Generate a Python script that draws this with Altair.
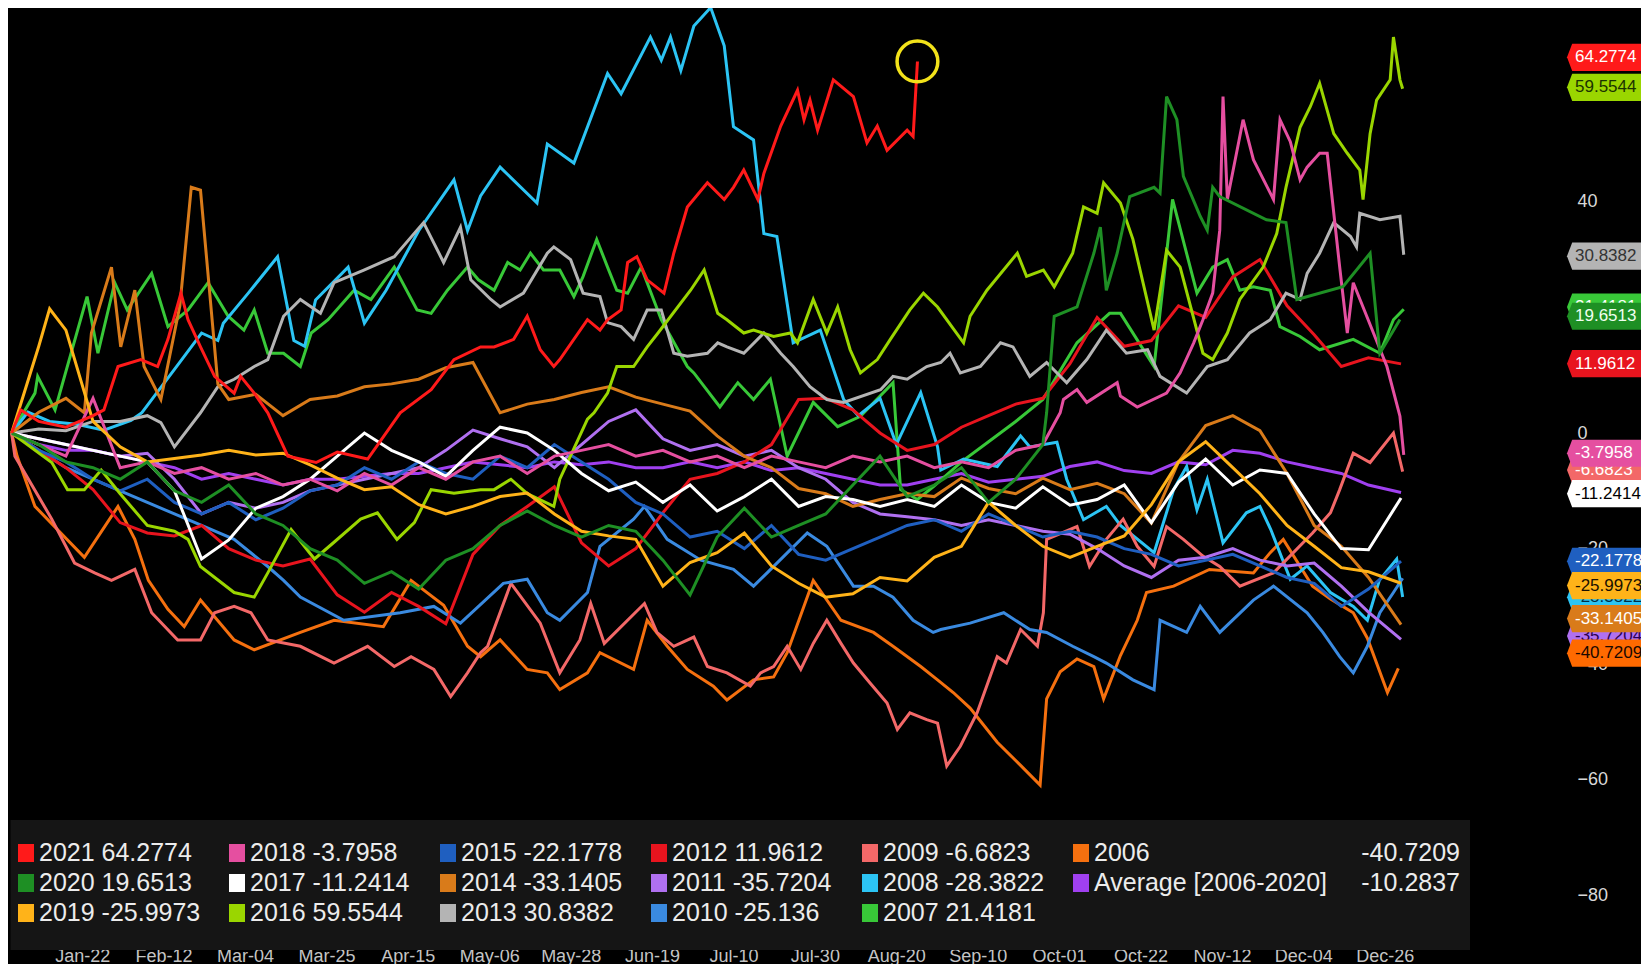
import altair as alt
import pandas as pd

# ---------------- data ----------------
NAMES = ["2021", "2020", "2019", "2018", "2017", "2016", "2015", "2014", "2013",
         "2012", "2011", "2010", "2009", "2008", "2007", "2006", "Average"]
COLORS = ["#ff1a1a", "#1e8f24", "#ffb319", "#e54fa0", "#ffffff", "#9ad600", "#1f5fc0",
          "#d97b1a", "#b4b4b4", "#e8141e", "#b070f0", "#3a8ae0", "#f36868", "#2cc4f4",
          "#38c838", "#f5700f", "#a040f0"]
LAST_TXT = ["64.2774", "19.6513", "-25.9973", "-3.7958", "-11.2414", "59.5544", "-22.1778",
            "-33.1405", "30.8382", "11.9612", "-35.7204", "-25.136", "-6.6823", "-28.3822",
            "21.4181", "-40.7209", "-10.2837"]

# common 5-trading-day grid (last point = year end)
GRID_DAYS = [5 * i for i in range(51)] + [256]

# --- series read point by point ---
D2021 = [0, 1.7, 5, 10, 15, 17, 19.6, 23.8, 26.9, 28.8, 31.2, 32.5, 34.8, 37.4, 41, 42.2, 44.7, 47.2, 50.9, 56.1,
         60, 65.6, 71.6, 77.3, 81.5, 86.4, 88.9, 92.5, 95, 97.4, 99.9, 101, 106.1, 108.4, 109.8, 112.3, 113.5, 115.2, 117.1, 120.2,
         122, 124.5, 128.2, 131.3, 133, 134.9, 137.5, 138.6, 141.7, 144.8, 146, 147.1, 148.5, 151.4, 155.1, 157.6, 159.5, 161.3, 165, 166.1,
         166.9]
V2021 = [0, 4, 2, 1, 3, 4, 11.5, 12.7, 11.5, 16.2, 24.2, 19.6, 14.9, 9.8, 6.9, 9.8, 6.9, 3.5, -4, -5.1,
         -3.3, -4.5, 3.5, 7.5, 12.7, 14.9, 14.9, 16.2, 20.2, 14.4, 11.5, 12.7, 19.6, 17.8, 19.6, 21.3, 29.5, 30.5, 26.5, 24.2,
         31.1, 39.1, 43.3, 40.4, 42.5, 45.5, 40.4, 44.9, 53.1, 59.3, 54.2, 57.6, 52.4, 61.1, 58.2, 50.2, 53.1, 48.9, 52.4, 51.3,
         64.2774]

D2008 = [0, 3, 7, 12, 17, 22, 24, 30, 35, 38, 39, 43.6, 49, 52, 54, 56, 62, 65, 69, 75,
         81.5, 84, 86.4, 90, 96.8, 98.7, 103.6, 109.8, 112.3, 117.7, 119.7, 121.4, 123.3, 125.7, 128.8, 131.3, 133, 136.7, 138.6, 141,
         144, 149, 153.3, 156, 160, 163, 167.5, 170.6, 171.2, 175.4, 181.6, 185.9, 187.6, 192.6, 194.4, 197.5, 201.7, 204.3, 210.5, 214.1,
         216.5, 218.4, 220.3, 223.2, 227.5, 230, 232, 235.6, 238.7, 243, 247.2, 249.8, 252, 255.2, 256.3]
V2008 = [0, 3.6, 2, 1.5, 0.5, 2.2, 3.5, 11, 17.3, 16, 19, 24.2, 30.5, 16, 15, 23, 28.7, 19, 24.7, 35,
         43.8, 35, 41, 46, 39.8, 50, 46.7, 62.2, 58.7, 68.5, 64.5, 68.5, 62.7, 70.4, 73.6, 67, 53, 50.7, 34.5, 34,
         15.6, 17.8, 5.8, 3, 6, -2, 7, -2.4, -6.4, -4.5, -5.8, -0.5, -2.4, -1.6, -8, -15, -12.7, -16, -20.7, -9.8,
         -5.8, -13.3, -8, -19, -13.8, -12.7, -16.7, -25.3, -23, -27.6, -30, -32.4, -25.5, -21.8, -28.3822]

D2016 = [0, 7.4, 10.3, 13.4, 16.5, 20, 25, 30, 32.5, 34.8, 41, 44.7, 47.2, 51.5, 55.8, 59.4, 64.3, 67.4, 71, 74.2,
         77.3, 81.5, 86.4, 88.9, 92, 95, 99.9, 101, 106.1, 107.3, 109.8, 111.5, 114.6, 117.1, 119.1, 125.1, 127.6, 130.1, 131.8, 134.9,
         136.7, 140.4, 143.5, 144.8, 147.7, 150.2, 152.2, 154.5, 156.4, 159.5, 161.9, 165.5, 168, 170.6, 175.4, 176.6, 179.7, 185.3, 187, 190.1,
         192.1, 195.5, 197.5, 200, 201.2, 204.3, 206.6, 210.5, 212.8, 215.3, 219.5, 221.3, 224, 226.3, 230.6, 233.1, 234.8, 237.4, 239.3, 241,
         243.6, 246.1, 248.4, 249, 250.3, 251.5, 254, 254.6, 255.8, 256.3]
V2016 = [0, -5.1, -9.8, -9.8, -6.4, -10.5, -16, -17, -18.4, -23.1, -27.6, -28.4, -24.2, -16.7, -21.8, -18.9, -14.9, -13.8, -18.4, -15.5,
         -9.8, -10.4, -9.8, -9.8, -8, -10.5, -12.7, -8, 2.4, 3.5, 6.9, 11.5, 11.5, 14.9, 17.3, 24.7, 28.2, 20.7, 19.6, 17.3,
         17.8, 16.7, 17.3, 15.6, 23.1, 17.3, 21.8, 14.4, 10.4, 12.7, 16.2, 21.3, 24.2, 21.8, 15.6, 20.2, 24.7, 31.1, 27.1, 28.2,
         25.3, 31.1, 39.1, 38, 43.3, 39.8, 33.5, 17.8, 31.6, 28.7, 13.8, 12.7, 17.3, 23.1, 28.7, 34.5, 42.5, 52.9, 56.5, 60.5,
         51.8, 48.4, 45.5, 40.4, 51.8, 57.6, 61.1, 68.5, 61.1, 59.5544]

D2013 = [0, 5, 10, 15, 20, 25, 27.5, 30, 34.8, 38, 41, 44.7, 47.2, 50.1, 53.2, 56.9, 59.4, 64.9, 70.5, 74.7,
         75.9, 79.6, 82.7, 84.6, 88.3, 90, 94.3, 98.7, 99.9, 103, 105.3, 108.4, 109.8, 112.3, 114.6, 117.1, 119.7, 122, 124.5, 128.2,
         130.1, 131.8, 134.9, 138.6, 141.7, 144, 147.1, 150.2, 153.3, 160.1, 162.4, 165, 168.6, 171.2, 172.9, 174.8, 178.5, 182.2, 184.5, 187.6,
         190.7, 194.4, 198.1, 201.7, 205.4, 209.3, 211.6, 216.5, 220.3, 224, 228.1, 231.9, 234.8, 237.4, 238.7, 241, 243.6, 246.7, 247.8, 248.4,
         252.1, 255.8, 256.5]
V2013 = [0, 0.7, 0.4, 2, 2, 3, 1.8, -2.4, 3.5, 8, 9.3, 11.5, 12.7, 20.2, 23.1, 20.7, 26, 28.2, 30.5, 35.1,
         36.4, 29.5, 35.6, 26.5, 23.1, 21.8, 24.2, 31.1, 32.2, 30, 24.2, 23.6, 19.1, 18.4, 16.2, 21.3, 21.3, 13.8, 13.3, 13.8,
         15.6, 14.9, 13.8, 17.3, 13.8, 11.5, 8, 5.8, 5.3, 7.5, 9.8, 9.3, 11.5, 12.2, 13.8, 10.4, 11.5, 15.6, 14.9, 9.8,
         12.2, 8.7, 12.7, 17.8, 13.8, 14.4, 9.8, 6.9, 11.5, 12.7, 17.3, 19.6, 24.2, 23.1, 27.6, 31.1, 36.4, 34, 32.2, 38,
         36.9, 37.5, 30.8382]

D2009 = [0, 0.6, 7.4, 11.6, 15.3, 18.4, 22.7, 25.8, 30.6, 34.8, 37.4, 41, 44.1, 47.2, 53.2, 59.4, 65.6, 70.5, 73.6, 77.8,
         80.9, 84, 86.4, 87.7, 92, 97.4, 101, 104.7, 106.7, 109.2, 116.6, 118.9, 122, 125.7, 128.2, 131.8, 136.1, 138, 140.4, 142.9,
         145.4, 147.7, 150.2, 152.8, 155.1, 158.2, 161.3, 163.2, 165.5, 168.6, 170.6, 172.3, 174.8, 177.9, 181.6, 183.3, 185.9, 189, 190.1, 190.7,
         196.3, 198.6, 201.7, 204.8, 207.4, 210.5, 212.8, 215.9, 219.5, 222.6, 226.3, 232.5, 239.7, 243, 244.7, 247.2, 250.3, 254.6, 256.3]
V2009 = [0, -4, -14.9, -22.5, -24.2, -25.5, -23.6, -31.1, -35.8, -35.8, -31.1, -30, -31.1, -35.8, -36.9, -39.8, -36.9, -40.4, -38.7, -40.9,
         -45.6, -41.5, -38, -36.9, -26, -32.9, -41.5, -35.8, -29.5, -36.4, -29.5, -34.5, -36.9, -35.3, -40.4, -41.5, -43.8, -41.5, -40.4, -36.9,
         -40.9, -36.4, -32.4, -36.4, -39.8, -43.3, -46.7, -51.3, -48.4, -49.6, -50.2, -57.6, -54.2, -48.4, -38.7, -39.8, -34, -36.9, -31.1, -18.4,
         -16.2, -23.1, -18.4, -14.9, -19.6, -23.1, -16.2, -18.4, -21.3, -23.1, -26.5, -24.2, -17.3, -13.8, -9.8, -3.5, -5.1, 0, -6.6823]

D2006 = [0, 1, 4.3, 13.4, 19.6, 22.7, 25.2, 28.8, 31.8, 34.8, 41, 44.7, 53.2, 59.4, 68.5, 73.6, 79.6, 84, 86.4, 90,
         95, 98.7, 101, 106.1, 108.4, 114.6, 117.1, 120.8, 124.5, 129.3, 131.8, 136.7, 140.4, 142.9, 147.7, 152.8, 158.8, 162.4, 167.5, 170.6,
         173.5, 176.6, 181.6, 185.9, 189.5, 190.7, 193.2, 196.3, 199.4, 201.2, 204.3, 207.4, 209.1, 214.1, 220.7, 228.8, 231.9, 234.3, 239.7, 243,
         247.2, 249.8, 253.5, 255.5]
V2006 = [0, -4, -12.7, -21.5, -12.7, -18.4, -25.5, -30.5, -33.5, -28.9, -35.8, -37.5, -34.5, -32.4, -33.5, -25.5, -29.8, -36.9, -38.7, -35.8,
         -40.9, -41.5, -44.4, -41.5, -38, -40.9, -32.4, -36.9, -40.9, -43.8, -46.2, -42.7, -42.2, -38, -25.5, -32.4, -34.5, -36.9, -40.4, -42.7,
         -44.9, -47.6, -53.5, -57.5, -60.9, -46, -41.3, -39.1, -40.4, -46, -38.5, -32.4, -27.6, -26.5, -23.6, -24.2, -20.7, -18.4, -26.5, -28.7,
         -31.1, -35.5, -44.9, -40.7209]

D2010 = [0, 5, 10, 15, 20, 25, 30, 35, 41, 47.2, 50.1, 53.2, 61.2, 71.6, 77.8, 82.7, 90.6, 95, 98.7, 101,
         106.1, 108.4, 114.6, 116.6, 120.8, 127, 133, 136.7, 139.2, 146.6, 150.2, 155.1, 158.8, 162.4, 166.1, 169.8, 171.2, 176.6, 182.8, 187.6,
         190.7, 195.5, 199.4, 201.7, 206.6, 210.5, 211.6, 216.5, 219, 222.6, 228.8, 232.5, 238.7, 241.6, 244.7, 247.2, 249.8, 252.1, 254.6, 256.3]
V2010 = [0, -3, -6, -8, -10, -12, -14, -16, -18.4, -23.1, -25.5, -28.4, -32.4, -31.1, -30, -32.9, -26, -25.3, -31.1, -32.4,
         -27.6, -19.6, -14.9, -12.7, -18.4, -22, -23.6, -26.5, -24.2, -17.3, -19.6, -26.5, -26.5, -28.4, -32.4, -34.5, -34, -32.9, -31.1, -34,
         -34.5, -36.9, -38.7, -39.8, -42.7, -44.4, -32.4, -34.5, -30, -34.5, -28.9, -26.5, -31.1, -34.5, -38.7, -41.5, -36.9, -31.1, -27.6, -25.136]

D2007 = [0, 4.3, 4.8, 8, 13.9, 15.9, 19, 21.3, 25.8, 28.8, 32.5, 36.2, 39.9, 42.8, 44.7, 47.2, 50.1, 53.2, 55.2, 58.3,
         63.1, 66.2, 70.5, 74.7, 77.3, 80.3, 84, 86, 88.9, 91.4, 93.7, 95.6, 98, 101, 103.6, 105.3, 107.8, 109.8, 111.5, 113.5,
         116, 119.7, 124.5, 125.7, 130.5, 133.8, 136.7, 139.8, 142.9, 147.7, 152.2, 156.4, 162.4, 163.8, 166.9, 169.8, 175, 180, 185, 190,
         196.3, 202.3, 204.3, 210.5, 213.9, 218.4, 221.3, 224, 226.3, 228.8, 231.9, 233.7, 237.4, 241, 247.2, 252.1, 254.6, 256.5]
V2007 = [0, 6.9, 9.8, 4, 23.6, 13.8, 26, 21.3, 27.6, 18.4, 21.3, 26, 20.2, 17.8, 21.3, 13.8, 13.8, 11.5, 17.3, 19.6,
         24.7, 23.1, 28.7, 21.3, 20.7, 24.7, 28.7, 26.5, 24.7, 29.5, 28.2, 31.1, 28.2, 28.2, 23.6, 27.1, 33.5, 28.7, 24.7, 24.2,
         28.7, 19.6, 11.5, 10.4, 4.5, 8.7, 5.8, 9.3, -4, 5.3, 1.1, 2.9, 8.7, -9.8, -11.5, -9.3, -5, -1.5, 2, 5.8,
         15.6, 20.7, 20.7, 11.5, 40.4, 24.2, 28.7, 30, 24.7, 25.3, 24.7, 18.4, 16.7, 14.4, 16.2, 13.8, 19.6, 21.4181]

# --- series on the 5-day grid (head on grid, tail read point by point) ---
V2018H = [0, -2, -4, 6, -6, -5, -7, -6, -8, -7, -9, -8, -10, -7, -9, -6, -8, -5, -4, -7,
          -4, -3, -2, -4, -3, -5, -4, -6, -4, -5, -6, -4, -5, -4, -6, -5, -6, -3, -2]
D2018T = [193.2, 193.8, 196.3, 198.1, 203.7, 204.3, 207.4, 212.8, 215.3, 217.8, 219.5, 221.3, 222.6, 223.2, 224,
          226.9, 228.8, 232.5, 233.7, 235.6, 237.4, 238.7, 241, 242.4, 244.7, 246.1, 247.2, 253.4, 255.8, 256.5]
V2018T = [3.5, 5.8, 7.5, 5.3, 8.7, 6.4, 4.5, 6.9, 10.4, 15.6, 19.6, 24.2, 35.1, 58.2, 40.4,
          54.2, 47.3, 40.4, 54.2, 50.4, 43.8, 46, 48.4, 48.4, 28.7, 17.3, 26, 11.5, 2.9, -3.7958]

V2020H = [0, -2, -5, -6, -8, -5, -10, -12, -9, -14, -16, -20, -22, -26, -24, -27, -22, -20, -16, -13.5,
          -16, -18, -16, -17, -22, -28, -18, -13, -18, -16, -14, -9, -4, -11, -9, -6, -12, -8, -2]
D2020T = [190.7, 192.1, 196.3, 199.4, 200.6, 201.7, 203.7, 206, 210.5, 211.6, 212.8, 214.7,
          215.9, 219, 220.3, 221.3, 222.6, 231.2, 234.8, 236.8, 245.3, 250.3, 252.1, 255.8]
V2020T = [3.5, 20.2, 21.8, 31.1, 35.6, 24.7, 31.1, 40.9, 42.5, 41.5, 58.2, 54.2,
          44.4, 37.5, 35.1, 42.5, 40.9, 36.9, 36.4, 23.1, 25.3, 31.1, 13.8, 19.6513]

D2014H = [0, 5, 10, 13.4, 14.7, 18.4, 20.1, 22.7, 24.4, 27.5, 31, 33.1, 34.8, 38]
V2014H = [0, 3.6, 6, 3.5, 17.3, 28.7, 14.9, 24.7, 11.5, 5.8, 22, 42.5, 42, 8.5]
V2014T = [5.8, 6.7, 3, 5.8, 6.4, 8, 8.5, 9.3, 11.3, 12.2, 3.5, 5, 5.8, 7, 8, 6.2, 5, 3.8, -0.5, -4,
          -6, -9.6, -10.5, -12.7, -11.5, -10.5, -11, -7.8, -9.6, -10.5, -7.8, -9.8, -8.7, -10.5, -15.6, -5, 1.3, 3, 0.4, -7,
          -16, -19.6, -25, -33.1405]

V2019 = [0, 15, 17.8, 2, -2.4, -5, -4.4, -3.8, -3, -3.8, -3.5, -5.5, -7.8, -9.8, -9.3, -12.4, -14, -12.7, -11, -10.4,
         -14, -17, -17.8, -18.4, -26.5, -22.4, -20.7, -17.3, -23, -26, -28.4, -27.8, -25, -25.6, -21.5, -19.6, -12, -16, -19.6, -21.5,
         -19.6, -17.8, -12.4, -5, -1.5, -6, -10.5, -16, -19.6, -23.3, -24, -25.9973]
V2017 = [0, -1, -2, -3, -4, -5, -10, -21.8, -18.5, -13, -11, -8, -4, 0, -3, -5, -7.5, -3, 1, 0,
         -3, -7, -10, -8.5, -12, -9, -13.5, -11, -8, -12.7, -11, -11.5, -12.7, -11.5, -12.7, -9, -12, -13, -9.3, -12.5,
         -11.5, -9, -15.5, -8.5, -4.5, -9, -6.4, -7, -14, -20, -20.2, -11.2414]
V2015 = [0, -3, -5, -8, -10, -8, -12, -14, -12, -15, -13, -10, -9, -6, -8, -5, -7, -8, -4, -6,
         -2, -5, -8, -12, -14, -18, -17, -20, -16, -21, -22, -20, -18, -16, -15, -17, -14, -16, -18, -17,
         -18, -20, -21, -23, -22, -21, -23, -25, -26, -30, -27, -22.1778]
V2012 = [0, -3, -6, -9.8, -15.5, -17.3, -17.8, -16, -20, -22, -23, -21.8, -28, -31, -27.6, -30, -33, -21, -16, -12.7,
         -9.3, -19, -23, -20, -13.8, -8, -7, -5, -2, 5.8, 6, 4, 0, -3, -2, 1, 3, 5, 6, 12,
         20, 15, 16, 22, 20, 27, 30, 22, 17, 11.5, 13, 11.9612]
V2011 = [0, -1, -2, -3, -4, -3.5, -8, -14, -12, -13, -12, -10, -9, -8, -7, -6, -3, 0.5, -1, -2.4,
         -6, -2, 2, 4, -1, -3, -2, -4, -3, -6, -8, -12, -14, -14.5, -15, -16, -15, -16, -17, -17.5,
         -20, -23, -25, -22, -21.5, -20, -22, -23, -22.5, -26.5, -31, -35.7204]
VAVG = [0, -2, -3, -3, -4, -5, -6, -8, -7, -8, -9, -8, -8, -7.5, -7, -7, -6, -5, -5.5, -6,
        -5, -5.5, -5, -6, -6, -5, -6, -5, -6.5, -6, -7, -8, -9, -9, -8, -7, -8.5, -8, -7.5, -5.8,
        -5, -6.5, -7, -5, -5.5, -3, -3.5, -5, -6, -7, -9, -10.2837]
EXTRA_2019 = [(7, 21.5)]

TICK_LABELS = ["Jan-22", "Feb-12", "Mar-04", "Mar-25", "Apr-15", "May-06", "May-28", "Jun-19",
               "Jul-10", "Jul-30", "Aug-20", "Sep-10", "Oct-01", "Oct-22", "Nov-12", "Dec-04", "Dec-26"]
TICK_DAYS = [13 + 15 * k for k in range(len(TICK_LABELS))]
Y_TICKS = [-80, -60, -40, -20, 0, 20, 40, 60]

# right-hand tags: text, displayed position, fill, text colour (draw order bottom -> top)
TAG_TXT = ["21.4181", "19.6513", "64.2774", "59.5544", "30.8382", "11.9612", "-6.6823", "-3.7958",
           "-11.2414", "-28.3822", "-22.1778", "-25.9973", "-35.7204", "-33.1405", "-40.7209"]
TAG_POS = [21.8, 20.2, 65.0, 59.8, 30.6, 12.0, -6.4, -3.5,
           -10.5, -28.4, -22.2, -26.4, -35.1, -32.1, -38.1]
TAG_FILL = ["#38c838", "#1e8f24", "#ff1a1a", "#9ad600", "#b4b4b4", "#e8141e", "#f36868", "#e54fa0",
            "#ffffff", "#2cc4f4", "#1f5fc0", "#ffb319", "#b070f0", "#d97b1a", "#ff6a00"]
TAG_INK = ["#ffffff", "#f0fff0", "#ffffff", "#1a3300", "#333333", "#ffffff", "#ffffff", "#ffffff",
           "#000000", "#003048", "#ffffff", "#1a1000", "#2a0050", "#ffffff", "#1a0800"]

# ---------------- assemble series ----------------
SERIES = {
    "2021": (D2021, V2021),
    "2020": (GRID_DAYS[:len(V2020H)] + D2020T, V2020H + V2020T),
    "2019": (GRID_DAYS + [p[0] for p in EXTRA_2019], V2019 + [p[1] for p in EXTRA_2019]),
    "2018": (GRID_DAYS[:len(V2018H)] + D2018T, V2018H + V2018T),
    "2017": (GRID_DAYS, V2017),
    "2016": (D2016, V2016),
    "2015": (GRID_DAYS, V2015),
    "2014": (D2014H + GRID_DAYS[8:], V2014H + V2014T),
    "2013": (D2013, V2013),
    "2012": (GRID_DAYS, V2012),
    "2011": (GRID_DAYS, V2011),
    "2010": (D2010, V2010),
    "2009": (D2009, V2009),
    "2008": (D2008, V2008),
    "2007": (D2007, V2007),
    "2006": (D2006, V2006),
    "Average": (GRID_DAYS, VAVG),
}

# ---------------- layout ----------------
W, H = 1397, 942
XMIN, XMAX = -0.3, 257.1
YMAX = 73.53
YMIN = YMAX - H / 5.78
FONT = "Liberation Sans, Arial, sans-serif"


def day_at(px):
    return XMIN + px * (XMAX - XMIN) / W


def val_at(py):
    return YMAX - py * (YMAX - YMIN) / H


XS = alt.Scale(domain=[XMIN, XMAX], nice=False, zero=False)
YS = alt.Scale(domain=[YMIN, YMAX], nice=False, zero=False)
label_arr = "[" + ",".join("'%s'" % t for t in TICK_LABELS) + "]"
XAX = alt.Axis(values=TICK_DAYS, labelExpr=label_arr + "[round((datum.value - 13) / 15)]",
               title=None, grid=False, ticks=False, domain=False, labelFont=FONT,
               labelFontSize=18, labelColor="#c4c4c4", labelPadding=6, labelBaseline="middle",
               labelOverlap=False, labelFlush=False)
YAX = alt.Axis(values=Y_TICKS, orient="right", title=None, grid=False, ticks=False, domain=False,
               labelFont=FONT, labelFontSize=18, labelColor="#d8d8d8", labelPadding=0,
               offset=170, labelOverlap=False, labelAlign="left")


def X(f):
    return alt.X(f, type="quantitative", scale=XS, axis=XAX)


def Y(f):
    return alt.Y(f, type="quantitative", scale=YS, axis=YAX)


frames = {}
for name in NAMES:
    days, vals = SERIES[name]
    pts = sorted(zip(days, vals))
    frames[name] = pd.DataFrame({"day": [p[0] for p in pts], "val": [p[1] for p in pts]})

layers = []
for name, col in reversed(list(zip(NAMES, COLORS))):
    layers.append(alt.Chart(frames[name]).mark_line(color=col, strokeWidth=3).encode(
        x=X("day"), y=Y("val")))

# yellow ring on the last 2021 point
ring = frames["2021"].tail(1)
layers.append(alt.Chart(ring).mark_point(shape="circle", filled=False, size=1660, color="#f2e21a",
                                         strokeWidth=3.5, opacity=1).encode(x=X("day"), y=Y("val")))

# ---------------- legend box ----------------
layers.append(alt.Chart(pd.DataFrame({"a": [0]})).mark_rect(color="#151515").encode(
    x=alt.value(0.5), x2=alt.value(1460), y=alt.value(812), y2=alt.value(H)))

COL_X0, COL_STEP = 8, 211
ROW_Y = [845, 875, 905]
sw, tx, rv = [], [], []
for i, (name, col, last) in enumerate(zip(NAMES, COLORS, LAST_TXT)):
    c, r = i // 3, i % 3
    x0 = COL_X0 + c * COL_STEP
    yc = ROW_Y[r]
    sw.append({"sx": day_at(x0), "sx2": day_at(x0 + 16), "sy": val_at(yc - 9),
               "sy2": val_at(yc + 9), "c": col})
    if c < 5:
        tx.append({"lx": day_at(x0 + 21), "ly": val_at(yc), "t": name + " " + last})
    else:
        label = "Average  [2006-2020]" if name == "Average" else name
        tx.append({"lx": day_at(x0 + 21), "ly": val_at(yc), "t": label})
        rv.append({"lx": day_at(1450), "ly": val_at(yc), "t": last})

layers.append(alt.Chart(pd.DataFrame(sw)).mark_rect().encode(
    x=X("sx"), x2="sx2", y=Y("sy"), y2="sy2", color=alt.Color("c:N", scale=None)))
layers.append(alt.Chart(pd.DataFrame(tx)).mark_text(
    align="left", baseline="middle", font=FONT, fontSize=25, color="#ececec").encode(
    x=X("lx"), y=Y("ly"), text="t:N"))
layers.append(alt.Chart(pd.DataFrame(rv)).mark_text(
    align="right", baseline="middle", font=FONT, fontSize=25, color="#ececec").encode(
    x=X("lx"), y=Y("ly"), text="t:N"))

# ---------------- right-hand value tags ----------------
TAG_PATH = "M-1,0L-0.87,-0.34L1,-0.34L1,0.34L-0.87,0.34Z"
for txt, pos, fill, ink in zip(TAG_TXT, TAG_POS, TAG_FILL, TAG_INK):
    tdf = pd.DataFrame({"v": [pos], "t": [txt]})
    layers.append(alt.Chart(tdf).mark_point(shape=TAG_PATH, size=6400, filled=True, color=fill,
                                            opacity=1, strokeWidth=0).encode(
        x=alt.value(1597), y=Y("v")))
    layers.append(alt.Chart(tdf).mark_text(align="left", baseline="middle", font=FONT,
                                           fontSize=17, color=ink).encode(
        x=alt.value(1565), y=Y("v"), text="t:N"))

chart = alt.layer(*layers).properties(
    width=W, height=H,
    autosize=alt.AutoSizeParams(type="none"),
    padding={"left": 2, "top": 0, "right": 234, "bottom": 14},
    background="#000000",
).configure_view(strokeWidth=0, fill="#000000")

chart.save("out.html", embed_options={"renderer": "svg", "actions": False})
